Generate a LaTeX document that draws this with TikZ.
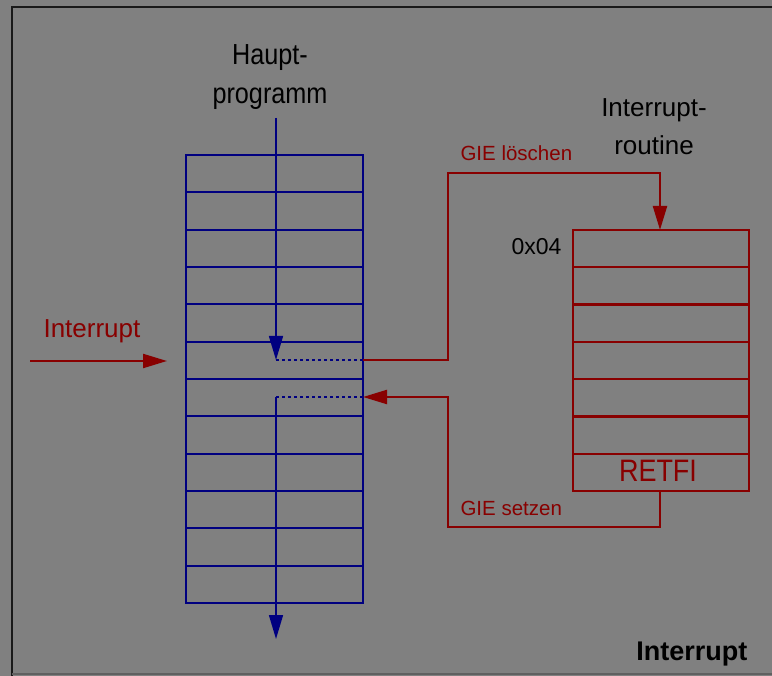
\documentclass[tikz,border=0pt]{standalone}
\usepackage{fontspec}
\setmainfont{Liberation Sans}
\newfontfamily\hoch[FakeStretch=0.87]{Liberation Sans}
\usetikzlibrary{arrows.meta}
\definecolor{grund}{HTML}{808080}
\definecolor{haupt}{HTML}{000080}
\definecolor{isr}{HTML}{880000}
\begin{document}
\begin{tikzpicture}[x=1pt, y=-1pt,
        blau/.style={draw=haupt, line width=2.2pt},
        rot/.style={draw=isr, line width=2.2pt},
        spitze/.style={-{Triangle[length=24pt, width=14pt]}},
        punkte/.style={draw=haupt, line width=2.2pt, dash pattern=on 3pt off 3pt},
        gross/.style={font=\fontsize{26}{38}\selectfont, align=center},
        klein/.style={text=isr, font=\fontsize{20.5}{24}\selectfont}]
            \useasboundingbox (0, 0) rectangle (772, 676);
            \fill[grund] (0, 0) rectangle (772, 676);
            \draw[line width=2.7pt, black!90] (12, 676) -- (12, 7) -- (772, 7);
            \draw[line width=2pt, black!25!grund] (12, 674) -- (772, 674);

            % Hauptprogramm
            \coordinate (HO) at (186, 155);
            \coordinate (HU) at (363, 603);
            \draw[blau] (HO) rectangle (HU);
            \foreach \i in {1,...,11}
                \draw[blau] (186, 155+\i*37.33) -- (363, 155+\i*37.33);

            \coordinate (start) at (276, 118);
            \coordinate (sprung) at (276, 360);
            \coordinate (aus) at (363, 360);
            \coordinate (rueck) at (276, 397);
            \coordinate (ein) at (363, 397);
            \coordinate (ende) at (276, 639);

            \draw[haupt, line width=1.6pt, spitze] (start) -- (sprung);
            \draw[punkte] (sprung) -- (aus);
            \draw[punkte] (rueck) -- (ein);
            \draw[haupt, line width=1.6pt, spitze] (rueck) -- (ende);

            % Interruptroutine
            \coordinate (IO) at (573, 230);
            \coordinate (IU) at (749, 491);
            \draw[rot] (IO) rectangle (IU);
            \foreach \i in {1,...,6}
                \draw[rot] (573, 230+\i*37.3) -- (749, 230+\i*37.3);

            \coordinate (eintritt) at (660, 230);
            \coordinate (austritt) at (660, 491);
            \draw[rot, spitze] (aus) -| (448, 173) -| (eintritt);
            \draw[rot, spitze] (austritt) |- (448, 527) |- (ein);

            \coordinate (irq) at (30, 361);
            \coordinate (irqspitze) at (167, 361);
            \draw[rot, spitze] (irq) -- (irqspitze);

            % Texte
            \node[gross, font=\hoch\fontsize{29}{39}\selectfont, anchor=north] (hauptprog) at (270, 41) {Haupt-\\programm};
            \node[gross, anchor=north] (routine) at (654, 95) {Interrupt-\\routine};
            \node[klein, anchor=base west] (loeschen) at (457, 161) {GIE löschen};
            \node[klein, anchor=base west] (setzen) at (457, 516) {GIE setzen};
            \node[text=isr, font=\hoch\fontsize{31}{34}\selectfont, anchor=base] (retfi) at (658, 482) {RETFI};
            \node[font=\fontsize{23}{26}\selectfont, anchor=base east] (adresse) at (565, 255) {0x04};
            \node[text=isr, font=\fontsize{26}{30}\selectfont, anchor=base west] (irqtext) at (40, 338) {Interrupt};
            \node[font=\bfseries\fontsize{27}{30}\selectfont, anchor=base east] (titel) at (751, 660) {Interrupt};
        \end{tikzpicture}
\end{document}
